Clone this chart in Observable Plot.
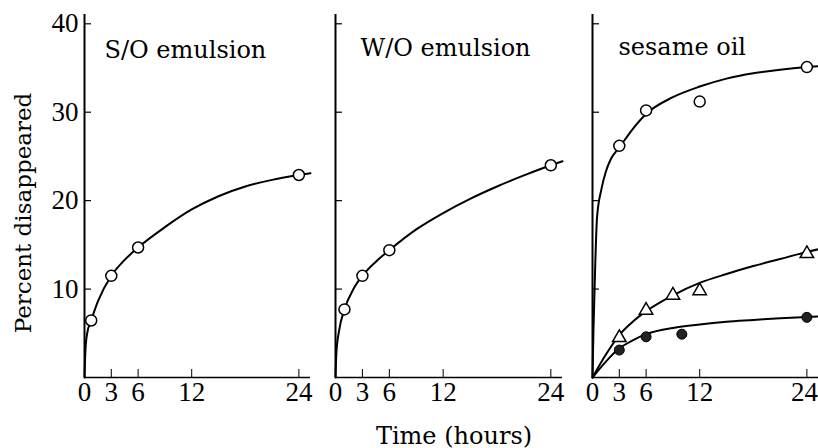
<!DOCTYPE html>
<html><head><meta charset="utf-8">
<script src="https://cdn.jsdelivr.net/npm/d3@7"></script>
<script src="https://cdn.jsdelivr.net/npm/@observablehq/plot@0.6"></script>
<style>
body{margin:0;background:#fff}
#chart{position:relative;width:818px;height:448px;overflow:hidden;background:#fff}
#chart svg{position:absolute;top:0}
</style>
</head><body><div id="chart"></div>
<script>
// ticks
const xTicks = [0, 3, 6, 12, 24];
const yTicks = [10, 20, 30, 40];
const panelTitles = ["S/O emulsion", "W/O emulsion", "sesame oil"];
const yLabel = "Percent disappeared";
const xLabel = "Time (hours)";

// S/O emulsion
const soTime = [0.75, 3, 6, 24];
const soPct = [6.45, 11.5, 14.7, 22.9];
const soCurveTime = [0, 0.1, 0.3, 0.75, 1.5, 3, 4.5, 6, 9, 12, 15, 18, 21, 24, 25.3];
const soCurvePct = [0, 3.0, 5.0, 6.45, 8.6, 11.5, 13.3, 14.7, 17.0, 19.0, 20.5, 21.6, 22.35, 22.9, 23.1];

// W/O emulsion
const woTime = [1, 3, 6, 24];
const woPct = [7.7, 11.5, 14.4, 24.0];
const woCurveTime = [0, 0.1, 0.4, 1, 2, 3, 4.5, 6, 9, 12, 15, 18, 21, 24, 25.3];
const woCurvePct = [0, 2.8, 5.3, 7.7, 10.0, 11.5, 13.1, 14.4, 16.75, 18.6, 20.2, 21.6, 22.85, 24.0, 24.45];

// sesame oil: open circles
const soilTime = [3, 6, 12, 24];
const soilPct = [26.2, 30.2, 31.2, 35.1];
const soilCurveTime = [0, 0.1, 0.3, 0.5, 1, 1.5, 2, 3, 4.5, 6, 9, 12, 15, 18, 21, 24, 25.3];
const soilCurvePct = [0, 5, 12.5, 18, 21.3, 23.3, 24.6, 26.0, 28.1, 29.8, 31.7, 32.9, 33.8, 34.4, 34.8, 35.1, 35.2];

// sesame oil: triangles
const triTime = [3, 6, 9, 12, 24];
const triPct = [4.5, 7.6, 9.3, 9.8, 14.0];
const triCurveTime = [0, 1.5, 3, 4.5, 6, 9, 12, 15, 18, 21, 24, 25.3];
const triCurvePct = [0, 2.6, 4.8, 6.3, 7.5, 9.3, 10.7, 11.7, 12.6, 13.4, 14.2, 14.5];

// sesame oil: filled circles
const dotTime = [3, 6, 10, 24];
const dotPct = [3.1, 4.6, 4.9, 6.8];
const dotCurveTime = [0, 1.5, 3, 4.5, 6, 9, 12, 15, 18, 21, 24, 25.3];
const dotCurvePct = [0, 1.8, 3.3, 4.2, 4.9, 5.6, 6.0, 6.3, 6.5, 6.7, 6.85, 6.9];

const zip = (t, p) => t.map((d, i) => ({t: d, p: p[i]}));

const H = 448, MT = 14, MB = 71;
const innerH = H - MT - MB;
const serif = "DejaVu Serif";

function panel({left, width, ml, mr, title, tdx, tdy, curves, points, extra = [], yAxis = false, lastDx = 0}) {
  const innerW = width - ml - mr;
  const last = xTicks[xTicks.length - 1];
  const marks = [
    Plot.ruleX([0], {strokeWidth: 2}),
    Plot.ruleY([0], {strokeWidth: 1.5}),
    Plot.tickY(yTicks, {strokeWidth: 1.2, insetRight: innerW - 7}),
    Plot.tickX(xTicks.filter(d => d > 0), {strokeWidth: 1, insetTop: innerH - 8}),
    Plot.axisX(xTicks.filter(d => d !== last), {tickSize: 0, tickPadding: 4, label: null}),
    Plot.axisX([last], {tickSize: 0, tickPadding: 4, label: null, dx: lastDx}),
    ...(yAxis ? [Plot.axisY(yTicks, {tickSize: 0, tickPadding: 6, label: null})] : []),
    ...curves.map(c => Plot.line(c, {x: "t", y: "p", curve: "monotone-x", strokeWidth: 2, stroke: "#000"})),
    ...points,
    Plot.text([title], {frameAnchor: "top-left", dx: tdx, dy: tdy, lineAnchor: "bottom", textAnchor: "start",
      fontFamily: serif, fontSize: 24, fill: "#000"}),
    ...extra
  ];
  const svg = Plot.plot({
    width, height: H,
    marginLeft: ml, marginRight: mr, marginTop: MT, marginBottom: MB,
    x: {domain: [0, 25.3], axis: null},
    y: {domain: [0, 41.05], axis: null},
    style: {background: "transparent", overflow: "visible", fontFamily: "Liberation Serif", fontSize: "27px", color: "#000"},
    marks
  });
  svg.style.left = left + "px";
  document.getElementById("chart").appendChild(svg);
}

const openDots = (t, p) => Plot.dot(zip(t, p), {x: "t", y: "p", r: 5.5, fill: "#fff", stroke: "#000", strokeWidth: 1.5});

panel({
  left: 0, width: 312, ml: 84, mr: 2, title: panelTitles[0], tdx: 20, tdy: 43, yAxis: true,
  curves: [zip(soCurveTime, soCurvePct)],
  points: [openDots(soTime, soPct)],
  extra: [Plot.text([yLabel], {frameAnchor: "left", rotate: -90, dx: -61, dy: 17, textAnchor: "middle",
    fontFamily: serif, fontSize: 23, fill: "#000"})]
});

panel({
  left: 312, width: 250, ml: 23, mr: 0, title: panelTitles[1], tdx: 25, tdy: 41,
  curves: [zip(woCurveTime, woCurvePct)],
  points: [openDots(woTime, woPct)],
  extra: [Plot.text([xLabel], {frameAnchor: "bottom", dx: 5, dy: 66, lineAnchor: "bottom", textAnchor: "middle",
    fontFamily: serif, fontSize: 24, fill: "#000"})]
});

panel({
  left: 562, width: 256, ml: 30, mr: 0, title: panelTitles[2], tdx: 26, tdy: 40, lastDx: -2.5,
  curves: [zip(soilCurveTime, soilCurvePct), zip(triCurveTime, triCurvePct), zip(dotCurveTime, dotCurvePct)],
  points: [
    openDots(soilTime, soilPct),
    Plot.dot(zip(triTime, triPct), {x: "t", y: "p", symbol: "triangle", r: 5, fill: "#fff", stroke: "#000", strokeWidth: 1.5}),
    Plot.dot(zip(dotTime, dotPct), {x: "t", y: "p", r: 5, fill: "#222", stroke: "#000", strokeWidth: 1})
  ]
});
</script>
</body></html>
